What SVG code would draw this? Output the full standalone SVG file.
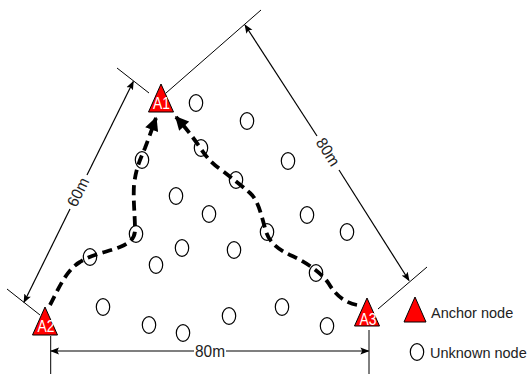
<svg xmlns="http://www.w3.org/2000/svg" width="530" height="374" viewBox="0 0 530 374">
<defs>
<style>
.u{fill:#fff;stroke:#000;stroke-width:1.2}
.a{fill:#f00;stroke:#000;stroke-width:1}
.al{font-family:"Liberation Sans",Arial,sans-serif;font-size:16px;fill:#fff;text-anchor:middle}
.t{font-family:"Liberation Sans",Arial,sans-serif;font-size:16px;fill:#222}
.lg{font-family:"Liberation Sans",Arial,sans-serif;font-size:14.5px;fill:#222}
.dim{stroke:#000;stroke-width:1.2;fill:none}
.ext{stroke:#000;stroke-width:1;fill:none}
.path{stroke:#000;stroke-width:3.8;fill:none;stroke-dasharray:10,5.5}
</style>
<marker id="ah" viewBox="0 0 10 10" refX="9" refY="5" markerWidth="9" markerHeight="9" markerUnits="userSpaceOnUse" orient="auto">
<path d="M0,1 L10,5 L0,9 L2,5 Z" fill="#000"/>
</marker>
<marker id="pa" viewBox="0 0 10 10" refX="9" refY="5" markerWidth="3.8" markerHeight="3.6" orient="auto">
<path d="M0,0 L10,5 L0,10 Z" fill="#000"/>
</marker>
</defs>

<g id="unknown-nodes">
<ellipse class="u" cx="196" cy="103" rx="6.7" ry="8.3"/>
<ellipse class="u" cx="247" cy="121" rx="6.7" ry="8.3"/>
<ellipse class="u" cx="142" cy="160" rx="6.7" ry="8.3"/>
<ellipse class="u" cx="201" cy="148" rx="6.7" ry="8.3"/>
<ellipse class="u" cx="288" cy="161" rx="6.7" ry="8.3"/>
<ellipse class="u" cx="236" cy="180" rx="6.7" ry="8.3"/>
<ellipse class="u" cx="176" cy="196" rx="6.7" ry="8.3"/>
<ellipse class="u" cx="209" cy="214" rx="6.7" ry="8.3"/>
<ellipse class="u" cx="307" cy="215" rx="6.7" ry="8.3"/>
<ellipse class="u" cx="136" cy="234" rx="6.7" ry="8.3"/>
<ellipse class="u" cx="182" cy="248" rx="6.7" ry="8.3"/>
<ellipse class="u" cx="267" cy="232" rx="6.7" ry="8.3"/>
<ellipse class="u" cx="347" cy="232" rx="6.7" ry="8.3"/>
<ellipse class="u" cx="156" cy="265" rx="6.7" ry="8.3"/>
<ellipse class="u" cx="234" cy="250" rx="6.7" ry="8.3"/>
<ellipse class="u" cx="90" cy="257" rx="6.7" ry="8.3"/>
<ellipse class="u" cx="316" cy="273" rx="6.7" ry="8.3"/>
<ellipse class="u" cx="282" cy="307" rx="6.7" ry="8.3"/>
<ellipse class="u" cx="103" cy="307" rx="6.7" ry="8.3"/>
<ellipse class="u" cx="149" cy="325" rx="6.7" ry="8.3"/>
<ellipse class="u" cx="183" cy="333" rx="6.7" ry="8.3"/>
<ellipse class="u" cx="229" cy="316" rx="6.7" ry="8.3"/>
<ellipse class="u" cx="327" cy="326" rx="6.7" ry="8.3"/>
</g>

<g id="connectors">
<path class="path" d="M50,305 C58,290 66,270 80,262 C92,254 108,252 120,247 C130,243 135,238 135,230 C135,215 133,200 134,185 C136,168 140,160 145,148 C150,135 153,126 156,118" marker-end="url(#pa)"/>
<path class="path" d="M357,305 C346,303 336,296 329,284 C322,273 306,262 290,255 C274,247 268,240 265,228 C261,214 258,200 250,193 C242,186 232,178 220,169 C210,162 205,155 199,146 C192,136 185,127 176,117" marker-end="url(#pa)"/>
<line class="ext" x1="50.7" y1="336" x2="50.7" y2="374"/>
<line class="ext" x1="369" y1="330" x2="369" y2="374"/>
<line class="dim" x1="194" y1="351" x2="51" y2="351" marker-end="url(#ah)"/>
<line class="dim" x1="226" y1="351" x2="368.5" y2="351" marker-end="url(#ah)"/>
<line class="ext" x1="117" y1="68" x2="149" y2="93"/>
<line class="ext" x1="7" y1="289" x2="40" y2="315"/>
<line class="dim" x1="87" y1="175" x2="133.3" y2="81.5" marker-end="url(#ah)"/>
<line class="dim" x1="70" y1="209" x2="24" y2="302.3" marker-end="url(#ah)"/>
<line class="ext" x1="166" y1="93" x2="261" y2="10"/>
<line class="ext" x1="378" y1="309" x2="427" y2="267"/>
<line class="dim" x1="317" y1="136" x2="245" y2="25" marker-end="url(#ah)"/>
<line class="dim" x1="339" y1="170" x2="409" y2="280.5" marker-end="url(#ah)"/>
</g>

<g id="dim-labels">
<text class="t" x="210" y="357" text-anchor="middle" textLength="30" lengthAdjust="spacingAndGlyphs">80m</text>
<text class="t" transform="translate(78,192) rotate(-63.6)" x="0" y="5.5" text-anchor="middle" textLength="30" lengthAdjust="spacingAndGlyphs">60m</text>
<text class="t" transform="translate(328,152) rotate(57.3)" x="0" y="5.5" text-anchor="middle" textLength="30" lengthAdjust="spacingAndGlyphs">80m</text>
</g>

<g id="A1"><polygon class="a" points="161,84 148.5,112 173.5,112"/><text class="al" x="161.5" y="108.5" textLength="17" lengthAdjust="spacingAndGlyphs">A1</text></g>
<g id="A2"><polygon class="a" points="45,307 32.5,335 57.5,335"/><text class="al" x="46" y="331.5" textLength="17" lengthAdjust="spacingAndGlyphs">A2</text></g>
<g id="A3"><polygon class="a" points="367,298 354.5,326 379.5,326"/><text class="al" x="368" y="325" textLength="17" lengthAdjust="spacingAndGlyphs">A3</text></g>

<g id="legend">
<polygon class="a" points="415,297 404,322 426,322"/>
<text class="lg" x="431" y="318">Anchor node</text>
<ellipse class="u" cx="417" cy="352" rx="6.7" ry="8.3"/>
<text class="lg" x="430" y="358">Unknown node</text>
</g>
</svg>
